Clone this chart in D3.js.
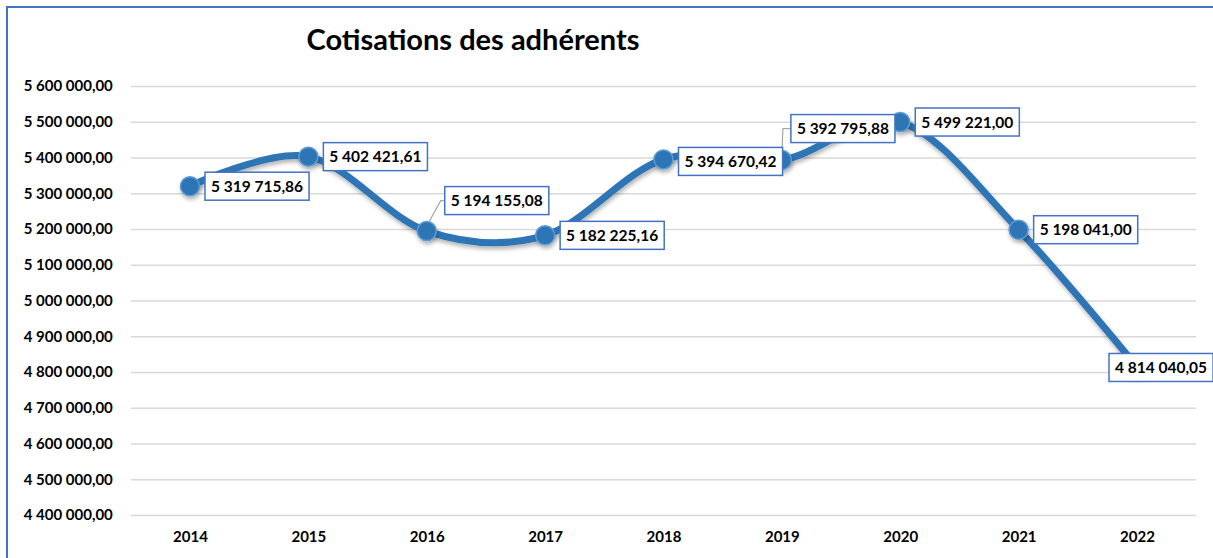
<!DOCTYPE html>
<html>
<head>
<meta charset="utf-8">
<script src="https://cdn.jsdelivr.net/npm/d3@7"></script>
<style>
  html, body { margin: 0; padding: 0; background: #fff; }
  svg { display: block; }
  text { font-family: Lato, "Open Sans", sans-serif; }
</style>
</head>
<body>
<svg id="chart" width="1213" height="558"></svg>
<script>
// ---- data ----
const years = ["2014", "2015", "2016", "2017", "2018", "2019", "2020", "2021", "2022"];
const cotisations = [5319715.86, 5402421.61, 5194155.08, 5182225.16, 5394670.42, 5392795.88, 5499221.00, 5198041.00, 4814040.05];
const yTicks = [4400000, 4500000, 4600000, 4700000, 4800000, 4900000, 5000000, 5100000, 5200000, 5300000, 5400000, 5500000, 5600000];
const title = "Cotisations des adhérents";

// ---- layout ----
const W = 1213, H = 558;
const plot = { left: 130.8, right: 1196.2, top: 86, bottom: 515 };
const lineColor = "#2E75B6";
const boxColor = "#4472C4";
// label placement tweaks (layout, not data)
const labelLayout = {
  "2016": { dx: 18, dy: -30.5, elbow: 4 },
  "2018": { dx: 15, dy: 2 },
  "2019": { dx: 9, dy: -31.5, elbow: 8 },
  "2022": { dx: -28, dy: 0.5 }
};

const fr = d3.formatLocale({ decimal: ",", thousands: "\u00a0", grouping: [3], currency: ["", ""] });
const fmt = fr.format(",.2f");

const svg = d3.select("#chart");

const defs = svg.append("defs");
const f = defs.append("filter").attr("id", "shadow").attr("x", "-20%").attr("y", "-20%").attr("width", "140%").attr("height", "160%");
f.append("feDropShadow").attr("dx", 1).attr("dy", 3).attr("stdDeviation", 2.2).attr("flood-color", "#000").attr("flood-opacity", 0.3);

// chart border
svg.append("rect")
  .attr("x", 7).attr("y", 7).attr("width", W + 20).attr("height", H + 20)
  .attr("fill", "#fff").attr("stroke", boxColor).attr("stroke-width", 2);

const x = d3.scalePoint().domain(years).range([plot.left, plot.right]).padding(0.5);
const y = d3.scaleLinear().domain([4400000, 5600000]).range([plot.bottom, plot.top]);

// gridlines + y axis labels
const yAxis = d3.axisLeft(y).tickValues(yTicks).tickFormat(fmt).tickSize(-(plot.right - plot.left)).tickPadding(18);
const gy = svg.append("g").attr("transform", `translate(${plot.left},0)`).call(yAxis);
gy.select(".domain").remove();
gy.selectAll(".tick line").attr("stroke", "#d9d9d9").attr("stroke-width", 1.5);
gy.selectAll(".tick text")
  .attr("fill", "#000").attr("font-size", 15).attr("font-weight", "bold")
  .style("font-family", "Lato, sans-serif");

// x axis labels
const xAxis = d3.axisBottom(x).tickSize(0).tickPadding(16);
const gx = svg.append("g").attr("transform", `translate(0,${plot.bottom})`).call(xAxis);
gx.select(".domain").remove();
gx.selectAll(".tick text")
  .attr("fill", "#000").attr("font-size", 15).attr("font-weight", "bold")
  .style("font-family", "Lato, sans-serif");

// title
svg.append("text")
  .attr("x", 473).attr("y", 50)
  .attr("text-anchor", "middle")
  .attr("font-size", 29).attr("font-weight", "bold")
  .attr("fill", "#000")
  .text(title);

const pts = years.map((yr, i) => ({ year: yr, value: cotisations[i], px: x(yr), py: y(cotisations[i]) }));

// line
const line = d3.line().x(d => d.px).y(d => d.py).curve(d3.curveCardinal.tension(0));
svg.append("path")
  .datum(pts)
  .attr("d", line)
  .attr("fill", "none")
  .attr("stroke", lineColor)
  .attr("stroke-width", 7)
  .attr("stroke-linecap", "round")
  .attr("filter", "url(#shadow)");

// markers
svg.append("g").selectAll("circle").data(pts).join("circle")
  .attr("cx", d => d.px).attr("cy", d => d.py).attr("r", 9.5)
  .attr("fill", lineColor)
  .attr("stroke", "#5B9BD5").attr("stroke-width", 1.5)
  .attr("filter", "url(#shadow)");

// labels
const boxH = 28, padX = 6;
const leadersG = svg.append("g");
const labelsG = svg.append("g");
pts.forEach(d => {
  const lay = labelLayout[d.year] || { dx: 15, dy: 0 };
  const g = labelsG.append("g");
  const t = g.append("text")
    .attr("font-size", 15.5).attr("font-weight", "bold").attr("fill", "#000")
    .text(fmt(d.value));
  const tw = t.node().getComputedTextLength();
  const bw = tw + padX * 2;
  const bx = d.px + lay.dx;
  const cy = d.py + lay.dy;
  if (lay.elbow !== undefined) {
    const ex = bx - lay.elbow;
    leadersG.append("polyline")
      .attr("points", `${d.px + (ex - d.px) * 0.15},${d.py - 9} ${ex},${cy} ${bx},${cy}`)
      .attr("fill", "none").attr("stroke", "#a6a6a6").attr("stroke-width", 1.2);
  }
  g.insert("rect", "text")
    .attr("x", bx).attr("y", cy - boxH / 2).attr("width", bw).attr("height", boxH)
    .attr("fill", "#fff").attr("stroke", boxColor).attr("stroke-width", 1.5);
  t.attr("x", bx + padX).attr("y", cy + 5.5);
});
</script>
</body>
</html>
